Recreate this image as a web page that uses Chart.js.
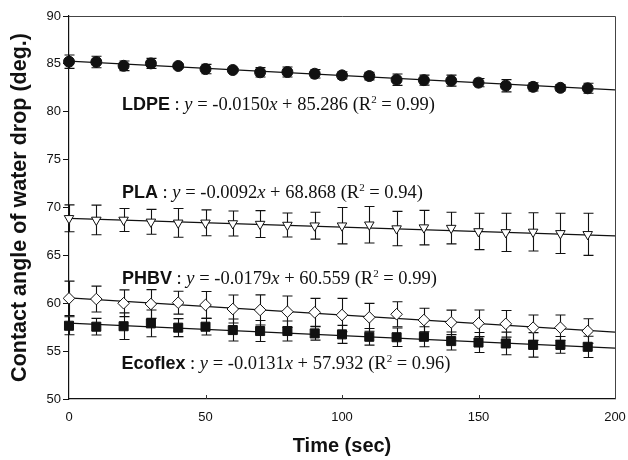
<!DOCTYPE html>
<html>
<head>
<meta charset="utf-8">
<script src="https://cdn.jsdelivr.net/npm/chart.js@4.4.0/dist/chart.umd.min.js"></script>
<style>
    html, body { margin: 0; padding: 0; background: #fff; }
</style>
</head>
<body>
<canvas id="chart" width="628" height="460"></canvas>
<script>
// measurement times (sec)
const times = [0, 10, 20, 30, 40, 50, 60, 70, 80, 90, 100, 110, 120, 130, 140, 150, 160, 170, 180, 190];

// contact angle (deg.) and error bars
const ldpe = [85.23, 85.2, 84.8, 85.05, 84.78, 84.46, 84.36, 84.12, 84.15, 83.97, 83.8, 83.73, 83.35, 83.3, 83.25, 83.04, 82.72, 82.6, 82.5, 82.45];
const ldpeErr = [0.7, 0.6, 0.5, 0.52, 0.2, 0.49, 0.15, 0.49, 0.52, 0.45, 0.38, 0.4, 0.6, 0.52, 0.57, 0.43, 0.64, 0.43, 0.33, 0.52];

const pla = [68.87, 68.7, 68.7, 68.5, 68.4, 68.4, 68.33, 68.27, 68.17, 68.1, 68.1, 68.2, 67.8, 67.9, 67.85, 67.5, 67.4, 67.45, 67.3, 67.2];
const plaErr = [1.4, 1.55, 1.2, 1.3, 1.5, 1.35, 1.3, 1.4, 1.25, 1.4, 1.9, 1.9, 1.8, 1.8, 1.65, 1.9, 2.0, 2.0, 2.1, 2.2];

const phbv = [60.51, 60.44, 60.0, 59.92, 60.06, 59.82, 59.4, 59.3, 59.12, 59.05, 58.77, 58.53, 58.85, 58.25, 58.0, 57.9, 57.85, 57.45, 57.45, 57.1];
const phbvErr = [1.8, 1.35, 1.4, 1.5, 1.2, 1.4, 1.46, 1.57, 1.64, 1.46, 1.74, 1.46, 1.31, 1.22, 1.28, 1.39, 1.39, 1.33, 1.33, 1.28];

const ecoflex = [57.65, 57.55, 57.6, 57.9, 57.45, 57.55, 57.2, 57.1, 57.1, 56.85, 56.75, 56.5, 56.45, 56.5, 56.05, 55.9, 55.8, 55.65, 55.65, 55.45];
const ecoflexErr = [0.94, 0.87, 1.39, 1.4, 0.94, 0.87, 1.15, 1.1, 1.04, 0.7, 0.94, 0.87, 0.97, 1.04, 0.94, 1.04, 1.18, 1.28, 0.87, 1.11];

// regression lines: y at t = 0 and t = 200
const fitTimes = [0, 200];
const ldpeFit = [85.286, 82.286];
const plaFit = [68.868, 67.028];
const phbvFit = [60.559, 56.979];
const ecoflexFit = [57.932, 55.312];

// equation labels
const names = ['LDPE', 'PLA', 'PHBV', 'Ecoflex'];
const slopes = ['-0.0150', '-0.0092', '-0.0179', '-0.0131'];
const intercepts = ['85.286', '68.868', '60.559', '57.932'];
const r2 = ['0.99', '0.94', '0.99', '0.96'];

// where each label sits (time, angle of the baseline)
const labelAt = [[19.4, 80.15], [19.4, 71.0], [19.4, 62.0], [19.2, 53.13]];

const ink = '#111';
const sans = '"Liberation Sans", Arial, sans-serif';
const serif = '"Liberation Serif", "Times New Roman", serif';

const toPoints = (ys, xs = times) => xs.map((t, i) => ({ x: t, y: ys[i] }));

const series = (values, errors, style) => Object.assign({
    data: toPoints(values),
    errors: errors,
    showLine: false,
    clip: false,
    borderColor: ink,
    borderWidth: 1,
    pointHoverRadius: 0
}, style);

const fitLine = (values) => ({
    type: 'line',
    data: toPoints(values, fitTimes),
    borderColor: ink,
    borderWidth: 1.2,
    pointRadius: 0,
    fill: false,
    tension: 0
});

const errorBars = {
    id: 'errorBars',
    beforeDatasetsDraw(chart) {
        const { ctx, scales: { x, y } } = chart;
        ctx.save();
        ctx.strokeStyle = ink;
        ctx.lineWidth = 1.1;
        chart.data.datasets.forEach(ds => {
            if (!ds.errors) return;
            ds.data.forEach((p, i) => {
                const px = Math.round(x.getPixelForValue(p.x)) + 0.5;
                const top = y.getPixelForValue(p.y + ds.errors[i]);
                const bot = y.getPixelForValue(p.y - ds.errors[i]);
                ctx.beginPath();
                ctx.moveTo(px, top);
                ctx.lineTo(px, bot);
                ctx.moveTo(px - 5, top);
                ctx.lineTo(px + 5, top);
                ctx.moveTo(px - 5, bot);
                ctx.lineTo(px + 5, bot);
                ctx.stroke();
            });
        });
        ctx.restore();
    }
};

const frame = {
    id: 'frame',
    afterDraw(chart) {
        const { ctx, chartArea: a, scales: { x } } = chart;
        ctx.save();
        ctx.strokeStyle = '#444';
        ctx.lineWidth = 1;
        ctx.beginPath();
        ctx.moveTo(a.left, a.top + 0.5);
        ctx.lineTo(a.right + 0.5, a.top + 0.5);
        ctx.lineTo(a.right + 0.5, a.bottom);
        ctx.stroke();
        // small inside ticks on the time axis
        ctx.strokeStyle = '#333';
        x.ticks.forEach(t => {
            if (t.value <= x.min || t.value >= x.max) return;
            const px = Math.round(x.getPixelForValue(t.value)) + 0.5;
            ctx.beginPath();
            ctx.moveTo(px, a.bottom);
            ctx.lineTo(px, a.bottom - 4);
            ctx.stroke();
        });
        // y axis title
        ctx.fillStyle = ink;
        ctx.font = 'bold 21.5px ' + sans;
        ctx.textAlign = 'center';
        ctx.textBaseline = 'middle';
        ctx.translate(20, (a.top + a.bottom) / 2);
        ctx.rotate(-Math.PI / 2);
        ctx.fillText('Contact angle of water drop (deg.)', 0, 0);
        ctx.restore();
    }
};

const equations = {
    id: 'equations',
    afterDatasetsDraw(chart) {
        const { ctx, scales: { x, y } } = chart;
        ctx.save();
        ctx.fillStyle = ink;
        ctx.textBaseline = 'alphabetic';
        names.forEach((name, i) => {
            let px = x.getPixelForValue(labelAt[i][0]);
            const py = y.getPixelForValue(labelAt[i][1]);
            const parts = [
                [name, 'bold 18px ' + sans, 0],
                [' : ', '18.5px ' + serif, 0],
                ['y', 'italic 18.5px ' + serif, 0],
                [' = ' + slopes[i], '18.5px ' + serif, 0],
                ['x', 'italic 18.5px ' + serif, 0],
                [' + ' + intercepts[i] + ' (R', '18.5px ' + serif, 0],
                ['2', '11px ' + serif, -7],
                [' = ' + r2[i] + ')', '18.5px ' + serif, 0]
            ];
            parts.forEach(([text, font, dy]) => {
                ctx.font = font;
                ctx.fillText(text, px, py + dy);
                px += ctx.measureText(text).width;
            });
        });
        ctx.restore();
    }
};

const ctx = document.getElementById('chart').getContext('2d');
new Chart(ctx, {
    type: 'scatter',
    data: {
        datasets: [
            series(ldpe, ldpeErr, { pointStyle: 'circle', pointRadius: 5.5, backgroundColor: ink }),
            series(pla, plaErr, { pointStyle: 'triangle', pointRotation: 180, pointRadius: 5.5, backgroundColor: '#fff' }),
            series(phbv, phbvErr, { pointStyle: 'rectRot', pointRadius: 5.8, backgroundColor: '#fff' }),
            series(ecoflex, ecoflexErr, { pointStyle: 'rect', pointRadius: 6.4, backgroundColor: ink }),
            fitLine(ldpeFit),
            fitLine(plaFit),
            fitLine(phbvFit),
            fitLine(ecoflexFit)
        ]
    },
    options: {
        responsive: false,
        animation: false,
        devicePixelRatio: 1,
        layout: {
            padding: { left: 0, top: 16, right: 13, bottom: 0 }
        },
        scales: {
            x: {
                type: 'linear',
                min: 0,
                max: 200,
                ticks: {
                    stepSize: 50,
                    color: ink,
                    padding: 3,
                    font: { family: sans, size: 13 }
                },
                grid: { display: false },
                border: { display: true, color: ink, width: 1.2 },
                title: {
                    display: true,
                    text: 'Time (sec)',
                    color: ink,
                    font: { family: sans, size: 20, weight: 'bold' },
                    padding: { top: 0, bottom: 2 }
                },
                afterFit: (scale) => {
                    scale.height = 61;
                    scale.paddingLeft = 0;
                    scale.paddingRight = 0;
                }
            },
            y: {
                min: 50,
                max: 90,
                ticks: {
                    stepSize: 5,
                    color: ink,
                    padding: 2,
                    font: { family: sans, size: 13 }
                },
                grid: {
                    display: true,
                    drawOnChartArea: false,
                    drawTicks: true,
                    tickLength: 6,
                    color: ink
                },
                border: { display: true, color: ink, width: 1.2 },
                title: { display: false },
                afterFit: (scale) => {
                    scale.width = 69;
                    scale.paddingTop = 0;
                    scale.paddingBottom = 0;
                }
            }
        },
        plugins: {
            legend: { display: false },
            tooltip: { enabled: false }
        }
    },
    plugins: [errorBars, frame, equations]
});
</script>
</body>
</html>
